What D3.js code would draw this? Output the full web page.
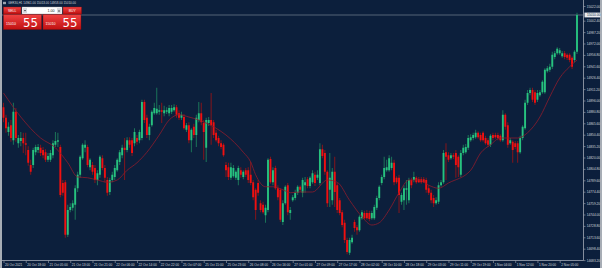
<!DOCTYPE html>
<html>
<head>
<meta charset="utf-8">
<script src="https://cdnjs.cloudflare.com/ajax/libs/d3/7.8.5/d3.min.js"></script>
<style>
    body { margin: 0; background: #0c1f3c; overflow: hidden; }
    #chart { width: 602px; height: 268px; }
</style>
</head>
<body>
<div id="chart"></div>
<script>
const symbol = 'GER30,H1'

// hourly bars
const open = [
    14887, 14873, 14854, 14863, 14843, 14881, 14839, 14842, 14846, 14839,
    14830, 14810, 14810, 14827, 14830, 14833, 14830, 14827, 14817, 14817,
    14823, 14837, 14841, 14834, 14786, 14787, 14717, 14750, 14753, 14757,
    14779, 14797, 14819, 14833, 14834, 14807, 14810, 14806, 14790, 14797,
    14819, 14806, 14790, 14774, 14790, 14794, 14803, 14814, 14823, 14833,
    14830, 14843, 14843, 14839, 14846, 14843, 14846, 14894, 14873, 14850,
    14863, 14879, 14879, 14881, 14883, 14879, 14881, 14879, 14881, 14883,
    14887, 14879, 14873, 14874, 14857, 14863, 14843, 14861, 14850, 14870,
    14879, 14866, 14833, 14866, 14870, 14867, 14853, 14846, 14839, 14837,
    14810, 14807, 14793, 14795, 14793, 14790, 14803, 14794, 14803, 14803,
    14797, 14787, 14777, 14786, 14759, 14757, 14743, 14750, 14818, 14787,
    14806, 14779, 14777, 14734, 14759, 14783, 14746, 14763, 14766, 14773,
    14781, 14773, 14783, 14791, 14782, 14787, 14797, 14793, 14786, 14831,
    14826, 14801, 14777, 14763, 14801, 14783, 14763, 14747, 14733, 14710,
    14693, 14707, 14734, 14727, 14723, 14739, 14746, 14746, 14746, 14739,
    14739, 14753, 14766, 14786, 14794, 14803, 14803, 14806, 14813, 14793,
    14793, 14761, 14763, 14777, 14763, 14790, 14790, 14793, 14791, 14791,
    14791, 14790, 14779, 14773, 14766, 14759, 14761, 14783, 14787, 14827,
    14823, 14819, 14823, 14826, 14821, 14797, 14826, 14827, 14833, 14843,
    14846, 14847, 14853, 14850, 14853, 14846, 14843, 14837, 14850, 14850,
    14850, 14849, 14843, 14877, 14863, 14839, 14841, 14839, 14839, 14827,
    14846, 14859, 14893, 14906, 14910, 14907, 14897, 14903, 14907, 14907,
    14935, 14937, 14941, 14954, 14959, 14959, 14955, 14959, 14957, 14957,
    14953, 14950, 14961
]
const high = [
    14893, 14877, 14867, 14870, 14893, 14886, 14850, 14854, 14853, 14853,
    14835, 14817, 14833, 14837, 14838, 14837, 14834, 14831, 14826, 14830,
    14843, 14854, 14853, 14837, 14790, 14790, 14757, 14759, 14763, 14783,
    14801, 14823, 14839, 14843, 14837, 14819, 14814, 14810, 14803, 14823,
    14823, 14810, 14794, 14793, 14801, 14810, 14819, 14830, 14837, 14846,
    14847, 14847, 14846, 14859, 14850, 14857, 14897, 14897, 14877, 14865,
    14883, 14893, 14913, 14890, 14893, 14889, 14887, 14890, 14890, 14891,
    14890, 14883, 14881, 14878, 14866, 14867, 14859, 14865, 14877, 14894,
    14893, 14870, 14873, 14874, 14906, 14870, 14857, 14849, 14843, 14839,
    14814, 14813, 14813, 14810, 14803, 14809, 14807, 14803, 14806, 14807,
    14814, 14790, 14779, 14790, 14763, 14761, 14757, 14819, 14821, 14807,
    14809, 14783, 14779, 14763, 14783, 14786, 14754, 14770, 14777, 14783,
    14783, 14793, 14794, 14794, 14795, 14803, 14801, 14803, 14839, 14837,
    14830, 14803, 14826, 14806, 14821, 14786, 14766, 14750, 14737, 14713,
    14713, 14717, 14737, 14730, 14743, 14750, 14749, 14750, 14749, 14749,
    14757, 14769, 14783, 14797, 14821, 14817, 14823, 14821, 14817, 14795,
    14797, 14773, 14783, 14790, 14793, 14793, 14801, 14795, 14794, 14794,
    14794, 14793, 14783, 14777, 14770, 14767, 14787, 14790, 14830, 14839,
    14827, 14826, 14826, 14830, 14823, 14830, 14837, 14838, 14850, 14851,
    14853, 14857, 14855, 14853, 14855, 14849, 14846, 14851, 14853, 14853,
    14853, 14851, 14883, 14879, 14867, 14846, 14843, 14842, 14842, 14849,
    14863, 14897, 14910, 14913, 14913, 14910, 14910, 14910, 14923, 14939,
    14942, 14945, 14961, 14962, 14967, 14966, 14962, 14962, 14959, 14959,
    14955, 14963, 15013
]
const low = [
    14867, 14853, 14849, 14841, 14837, 14841, 14833, 14835, 14826, 14823,
    14809, 14797, 14806, 14823, 14826, 14822, 14819, 14814, 14814, 14814,
    14819, 14834, 14834, 14767, 14769, 14713, 14714, 14747, 14749, 14737,
    14774, 14793, 14817, 14827, 14807, 14803, 14797, 14786, 14783, 14793,
    14803, 14787, 14769, 14770, 14787, 14790, 14801, 14810, 14819, 14790,
    14827, 14833, 14822, 14835, 14837, 14839, 14843, 14866, 14846, 14843,
    14861, 14877, 14877, 14877, 14866, 14875, 14878, 14875, 14878, 14881,
    14873, 14870, 14870, 14857, 14854, 14839, 14827, 14846, 14834, 14867,
    14863, 14817, 14814, 14862, 14837, 14846, 14841, 14835, 14831, 14821,
    14794, 14790, 14790, 14793, 14790, 14783, 14793, 14791, 14794, 14786,
    14783, 14763, 14737, 14769, 14747, 14745, 14733, 14747, 14785, 14783,
    14777, 14763, 14734, 14730, 14757, 14743, 14737, 14761, 14763, 14770,
    14774, 14767, 14773, 14779, 14779, 14785, 14782, 14790, 14783, 14819,
    14797, 14754, 14754, 14757, 14754, 14746, 14743, 14727, 14706, 14691,
    14690, 14705, 14721, 14717, 14721, 14737, 14737, 14737, 14735, 14737,
    14737, 14750, 14763, 14783, 14791, 14801, 14801, 14803, 14783, 14785,
    14746, 14757, 14750, 14757, 14759, 14779, 14787, 14785, 14786, 14785,
    14786, 14773, 14770, 14759, 14754, 14757, 14758, 14781, 14785, 14790,
    14814, 14817, 14818, 14793, 14794, 14794, 14823, 14825, 14830, 14841,
    14843, 14845, 14845, 14841, 14841, 14837, 14834, 14834, 14843, 14845,
    14843, 14841, 14841, 14857, 14833, 14837, 14813, 14831, 14813, 14825,
    14843, 14857, 14890, 14903, 14894, 14890, 14894, 14901, 14905, 14905,
    14933, 14934, 14938, 14951, 14957, 14957, 14953, 14951, 14950, 14947,
    14938, 14947, 14958
]
const close = [
    14873, 14859, 14861, 14846, 14881, 14846, 14846, 14846, 14839, 14837,
    14813, 14801, 14830, 14834, 14834, 14826, 14823, 14817, 14822, 14826,
    14839, 14842, 14843, 14770, 14773, 14717, 14750, 14754, 14759, 14779,
    14797, 14821, 14837, 14837, 14810, 14817, 14801, 14790, 14799, 14821,
    14806, 14793, 14773, 14790, 14797, 14806, 14817, 14827, 14833, 14830,
    14843, 14837, 14826, 14854, 14841, 14854, 14894, 14870, 14850, 14861,
    14881, 14886, 14885, 14883, 14881, 14883, 14883, 14886, 14886, 14887,
    14877, 14873, 14877, 14859, 14863, 14843, 14857, 14850, 14873, 14879,
    14867, 14854, 14870, 14870, 14863, 14850, 14843, 14839, 14834, 14823,
    14803, 14794, 14807, 14806, 14801, 14806, 14797, 14801, 14797, 14790,
    14786, 14767, 14750, 14773, 14750, 14747, 14753, 14817, 14787, 14803,
    14779, 14767, 14737, 14759, 14781, 14747, 14750, 14767, 14773, 14781,
    14777, 14790, 14787, 14782, 14793, 14799, 14786, 14797, 14831, 14822,
    14801, 14759, 14793, 14801, 14774, 14750, 14746, 14730, 14710, 14694,
    14710, 14713, 14726, 14723, 14741, 14747, 14739, 14739, 14738, 14746,
    14754, 14766, 14781, 14794, 14806, 14807, 14819, 14813, 14787, 14787,
    14770, 14770, 14779, 14779, 14790, 14783, 14794, 14787, 14787, 14787,
    14787, 14777, 14773, 14763, 14759, 14763, 14783, 14787, 14826, 14821,
    14817, 14823, 14821, 14810, 14807, 14826, 14833, 14834, 14846, 14847,
    14850, 14853, 14847, 14843, 14843, 14839, 14837, 14849, 14846, 14847,
    14846, 14843, 14877, 14861, 14837, 14843, 14830, 14834, 14827, 14846,
    14861, 14893, 14906, 14910, 14897, 14893, 14906, 14907, 14921, 14937,
    14939, 14941, 14957, 14959, 14965, 14963, 14959, 14954, 14953, 14950,
    14941, 14961, 15010
]

// moving average, sampled at these bar numbers
const maBars = [0, 7, 15, 21, 26, 30, 34, 38, 42, 46, 50, 54, 58, 63, 67, 71, 75, 79, 86, 90,
    97, 100, 102, 106, 109, 113, 116, 120, 125, 131, 135, 140, 145, 149, 152, 156, 160, 164, 168, 172,
    176, 180, 189, 193, 197, 201, 208, 212, 217, 221, 225, 229, 232]
const maValues = [14906, 14874, 14846, 14833, 14813, 14794, 14793, 14790, 14787, 14790,
    14803, 14813, 14827, 14850, 14870, 14877, 14874, 14870, 14859, 14850,
    14827, 14814, 14797, 14781, 14781, 14777, 14773, 14774, 14774, 14790,
    14787, 14763, 14741, 14730, 14733, 14750, 14773, 14790, 14790, 14783,
    14779, 14786, 14803, 14826, 14837, 14846, 14846, 14853, 14874, 14901,
    14926, 14941, 14950]

const priceTicks = [15022.00, 15002.40, 14987.20, 14972.00, 14956.80, 14941.60, 14926.40, 14911.20,
    14896.00, 14880.80, 14865.60, 14850.40, 14835.20, 14820.00, 14804.80, 14789.60, 14774.40,
    14759.20, 14744.00, 14728.80, 14713.60, 14698.40, 14683.20]

const timeLabels = ['20 Oct 2021', '20 Oct 18:00', '21 Oct 05:00', '21 Oct 13:00', '21 Oct 21:00',
    '22 Oct 06:00', '22 Oct 14:00', '22 Oct 22:00', '25 Oct 07:00', '25 Oct 15:00', '25 Oct 23:00',
    '26 Oct 08:00', '26 Oct 16:00', '27 Oct 01:00', '27 Oct 09:00', '27 Oct 17:00', '28 Oct 02:00',
    '28 Oct 10:00', '28 Oct 18:00', '29 Oct 03:00', '29 Oct 11:00', '29 Oct 19:00', '1 Nov 04:00',
    '1 Nov 12:00', '1 Nov 20:00', '2 Nov 05:00']
const barsPerLabel = 9

const lotSize = '1.00'
const sellQuote = ['15010', '55']
const buyQuote = ['15010', '55']

class CandleChart {
    constructor(){
        this.size = {
            width: 602,
            height: 268,
            left: 2,
            right: 583.5,
            bottom: 260.5
        }
        this.colors = {
            bg: '#0c1f3c',
            up: '#27c27f',
            upWick: '#1f8a60',
            down: '#f01010',
            downWick: '#a51313',
            ma: '#8e1c2c',
            axis: '#a3aab6',
            text: '#d3d7de'
        }
        this.font = '"Liberation Sans", Arial, sans-serif'
        this.drawPlot()
    }

    drawPlot(){
        this.svg = d3.select('#chart')
            .append('svg')
            .attr('width', this.size.width)
            .attr('height', this.size.height)

        this.svg.append('rect')
            .attr('width', this.size.width)
            .attr('height', this.size.height)
            .attr('fill', this.colors.bg)

        this.xScale = d3.scaleLinear()
            .domain([0, close.length - 1])
            .range([3.5, 577])

        this.yScale = d3.scaleLinear()
            .domain([14680, 15030])
            .range([262.5, 0])

        this.svg.append('g').attr('id', 'axis')
        this.svg.append('g').attr('id', 'price-line')
        this.svg.append('g').attr('id', 'candles')
        this.svg.append('g').attr('id', 'ma')
        this.svg.append('g').attr('id', 'panel')

        this.drawAxis()
        this.drawPriceLine()
        this.drawCandles()
        this.drawMA()
        this.drawPanel()
    }

    drawAxis(){
        let g = this.svg.select('#axis')
        let c = this.colors

        // window frame
        g.append('rect').attr('x', 0).attr('y', 0).attr('width', 2).attr('height', this.size.height).attr('fill', '#a7adb5')
        g.append('rect').attr('x', 600).attr('y', 0).attr('width', 2).attr('height', this.size.height).attr('fill', '#a7adb5')

        g.append('line')
            .attr('x1', this.size.right).attr('x2', this.size.right)
            .attr('y1', 0).attr('y2', this.size.bottom)
            .attr('stroke', c.axis).attr('stroke-width', 0.8)
        g.append('line')
            .attr('x1', this.size.left).attr('x2', this.size.right)
            .attr('y1', this.size.bottom).attr('y2', this.size.bottom)
            .attr('stroke', c.axis).attr('stroke-width', 0.8)

        let yAxis = d3.axisRight(this.yScale)
            .tickValues(priceTicks)
            .tickSize(2)
            .tickPadding(1.3)
            .tickFormat(d3.format('.2f'))

        g.append('g')
            .attr('transform', `translate(${this.size.right},0)`)
            .call(yAxis)
            .attr('font-size', 3.2)
            .attr('font-family', this.font)
            .call(a => a.select('.domain').remove())
            .call(a => a.selectAll('line').attr('stroke', c.axis).attr('stroke-width', 0.6))
            .call(a => a.selectAll('text').attr('fill', c.text))

        let xAxis = d3.axisBottom(this.xScale)
            .tickValues(timeLabels.map((d, i) => i * barsPerLabel))
            .tickFormat((d, i) => timeLabels[i])
            .tickSize(2.5)
            .tickPadding(1)

        g.append('g')
            .attr('transform', `translate(0,${this.size.bottom})`)
            .call(xAxis)
            .attr('font-size', 3.2)
            .attr('font-family', this.font)
            .call(a => a.select('.domain').remove())
            .call(a => a.selectAll('line').attr('stroke', c.axis).attr('stroke-width', 0.6))
            .call(a => a.selectAll('text').attr('fill', c.text).attr('text-anchor', 'start').attr('dx', 1))
    }

    drawPriceLine(){
        let last = close[close.length - 1]
        let y = this.yScale(last)
        let g = this.svg.select('#price-line')

        g.append('line')
            .attr('x1', this.size.left).attr('x2', this.size.right)
            .attr('y1', y).attr('y2', y)
            .attr('stroke', '#75818f')
            .attr('stroke-width', 0.7)

        g.append('rect')
            .attr('x', this.size.right + 1)
            .attr('y', y - 2.4)
            .attr('width', 16)
            .attr('height', 4.8)
            .attr('fill', '#e9ebef')
        g.append('text')
            .attr('x', this.size.right + 3.5)
            .attr('y', y + 1.1)
            .attr('font-size', 3.2)
            .attr('font-family', this.font)
            .attr('fill', '#0c1f3c')
            .text(d3.format('.2f')(last))

        // symbol line, top left
        let f = d3.format('.2f')
        let n = close.length - 1
        this.svg.append('rect').attr('x', 3).attr('y', 1.8).attr('width', 3).attr('height', 2.4).attr('fill', '#9aa3b0')
        this.svg.append('text')
            .attr('x', 8)
            .attr('y', 4.2)
            .attr('font-size', 3)
            .attr('font-family', this.font)
            .attr('fill', c2 => this.colors.text)
            .text(`${symbol}  ${f(open[n])} ${f(high[n])} ${f(low[n])} ${f(close[n])}`)
    }

    drawCandles(){
        let data = close.map((c, i) => ({ i: i, o: open[i], h: high[i], l: low[i], c: c }))
        let x = this.xScale, y = this.yScale, col = this.colors
        let g = this.svg.select('#candles')

        g.selectAll('line')
            .data(data)
            .join('line')
            .attr('x1', d => x(d.i))
            .attr('x2', d => x(d.i))
            .attr('y1', d => y(d.h))
            .attr('y2', d => y(d.l))
            .attr('stroke', d => d.c >= d.o ? col.upWick : col.downWick)
            .attr('stroke-width', 0.8)

        g.selectAll('rect')
            .data(data)
            .join('rect')
            .attr('x', d => x(d.i) - 0.95)
            .attr('width', 1.9)
            .attr('y', d => y(Math.max(d.o, d.c)))
            .attr('height', d => Math.max(0.7, Math.abs(y(d.o) - y(d.c))))
            .attr('fill', d => d.c >= d.o ? col.up : col.down)
    }

    drawMA(){
        let pts = maBars.map((b, i) => ({ bar: b, value: maValues[i] }))
        let line = d3.line()
            .x(d => this.xScale(d.bar))
            .y(d => this.yScale(d.value))
            .curve(d3.curveMonotoneX)

        this.svg.select('#ma')
            .append('path')
            .datum(pts)
            .attr('d', line)
            .attr('fill', 'none')
            .attr('stroke', this.colors.ma)
            .attr('stroke-width', 0.8)
    }

    drawPanel(){
        let g = this.svg.select('#panel')

        let defs = this.svg.append('defs')
        let grad = defs.append('linearGradient').attr('id', 'btn').attr('x1', 0).attr('x2', 0).attr('y1', 0).attr('y2', 1)
        grad.append('stop').attr('offset', '0%').attr('stop-color', '#f04343')
        grad.append('stop').attr('offset', '100%').attr('stop-color', '#c01010')

        let button = (x, w, label) => {
            g.append('rect').attr('x', x).attr('y', 7).attr('width', w).attr('height', 7)
                .attr('fill', 'url(#btn)').attr('stroke', '#8d0d0d').attr('stroke-width', 0.4)
            g.append('text').attr('x', x + w / 2).attr('y', 11.7)
                .attr('text-anchor', 'middle').attr('font-size', 3.4).attr('font-family', this.font)
                .attr('fill', '#fff').text(label)
        }
        button(3.5, 17.5, 'SELL')
        button(63, 18.5, 'BUY')

        // lot size box
        g.append('rect').attr('x', 22).attr('y', 7).attr('width', 40).attr('height', 7)
            .attr('fill', '#ffffff').attr('stroke', '#9a9a9a').attr('stroke-width', 0.4)
        g.append('rect').attr('x', 23).attr('y', 8).attr('width', 4).attr('height', 5).attr('fill', '#d8dbe0')
        g.append('rect').attr('x', 57).attr('y', 8).attr('width', 4).attr('height', 5).attr('fill', '#d8dbe0')
        g.append('path').attr('d', 'M24,10 L26,10 L25,11.6 Z').attr('fill', '#333')
        g.append('path').attr('d', 'M58,11.4 L60,11.4 L59,9.8 Z').attr('fill', '#333')
        g.append('text').attr('x', 54.5).attr('y', 11.8).attr('text-anchor', 'end')
            .attr('font-size', 3.6).attr('font-family', this.font).attr('fill', '#222').text(lotSize)

        let quote = (x, q) => {
            g.append('rect').attr('x', x).attr('y', 14.5).attr('width', 38).attr('height', 15)
                .attr('fill', 'url(#btn)').attr('stroke', '#8d0d0d').attr('stroke-width', 0.4)
            g.append('text').attr('x', x + 2.5).attr('y', 25.3)
                .attr('font-size', 3.6).attr('font-family', this.font).attr('fill', '#fff').text(q[0])
            g.append('text').attr('x', x + 19.5).attr('y', 27)
                .attr('font-size', 13).attr('font-family', '"Liberation Sans Narrow", "DejaVu Sans Condensed", Arial, sans-serif')
                .attr('fill', '#fff').text(q[1])
        }
        quote(3.5, sellQuote)
        quote(43, buyQuote)
    }
}

new CandleChart()
</script>
</body>
</html>
